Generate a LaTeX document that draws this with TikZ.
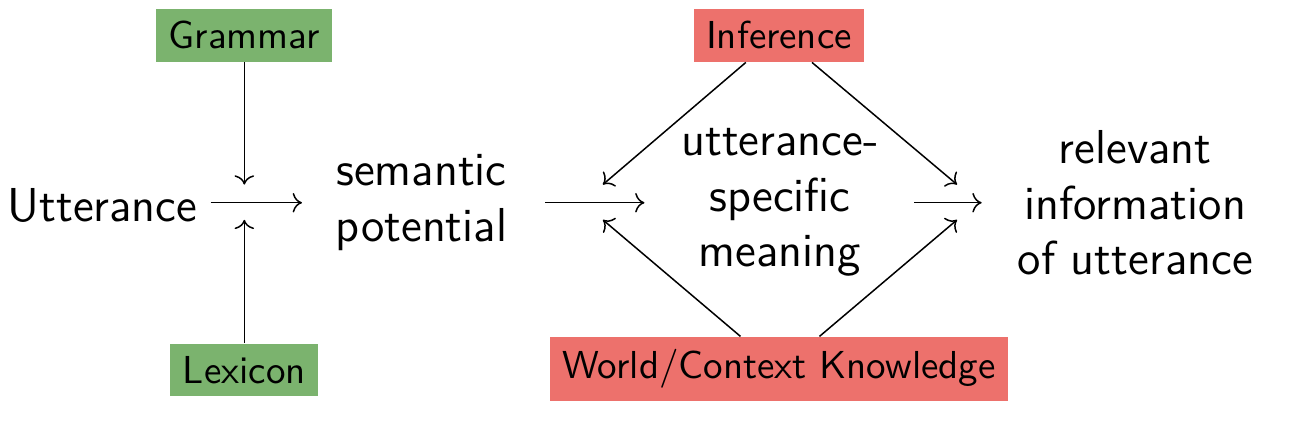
\documentclass[tikz,border=0pt]{standalone}
\usepackage{xcolor}
\usepackage{tikz}
\usetikzlibrary{arrows.meta}
\usetikzlibrary{calc}

\definecolor{gramgreen}{RGB}{123,179,110}
\definecolor{infred}{RGB}{237,113,108}

\tikzset{
    greenbox/.style={fill=gramgreen, font=\sffamily\fontsize{10.4}{12.5}\selectfont},
    redbox/.style={fill=infred, font=\sffamily\fontsize{10.4}{12.5}\selectfont},
    stage/.style={font=\sffamily\fontsize{12.7}{14.8}\selectfont, align=center},
}

\begin{document}
\begin{tikzpicture}
        \useasboundingbox (0,0) rectangle (12.09,-3.99);

        % Partie grammaticale
        \node[greenbox] (gram) at (2.29,-0.33) {Grammar};
        \node[greenbox] (lex) at (2.29,-3.47) {Lexicon};
        \node[stage] (utt) at (0.96,-1.93) {Utterance};
        \node[stage] (sem) at (3.95,-1.90) {semantic\\potential};

        \coordinate (g1) at (2.29,-1.73);
        \coordinate (l1) at (2.29,-2.06);
        \coordinate (u1) at (2.83,-1.90);
        \draw[->] (gram) -- (g1);
        \draw[->] (lex) -- (l1);
        \draw[->] (utt.east |- u1) -- (u1);

        % Partie pragmatique
        \node[redbox] (inf) at (7.30,-0.33) {Inference};
        \node[redbox] (wck) at (7.30,-3.46) {World/Context Knowledge};
        \node[stage] (usm) at (7.31,-1.90) {utterance-\\specific\\meaning};
        \node[stage] (rel) at (10.64,-1.90) {relevant\\information\\of utterance};

        \coordinate (s0) at (5.11,-1.90);
        \coordinate (s1) at (6.04,-1.90);
        \coordinate (m0) at (8.57,-1.90);
        \coordinate (m1) at (9.20,-1.90);
        \coordinate (a1) at (5.65,-1.73); % haut gauche
        \coordinate (a2) at (8.97,-1.73); % haut droite
        \coordinate (b1) at (5.65,-2.06); % bas gauche
        \coordinate (b2) at (8.97,-2.06); % bas droite
        \draw[->] (s0) -- (s1);
        \draw[->] (m0) -- (m1);
        \draw[->] ([xshift=-0.31cm]inf.south) -- (a1);
        \draw[->] ([xshift=0.31cm]inf.south) -- (a2);
        \draw[->] ([xshift=-0.36cm]wck.north) -- (b1);
        \draw[->] ([xshift=0.38cm]wck.north) -- (b2);
    \end{tikzpicture}
\end{document}
